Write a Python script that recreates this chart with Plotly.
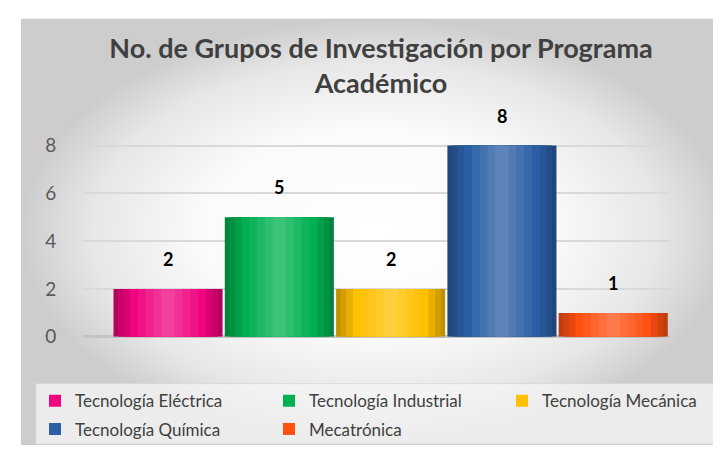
import plotly.graph_objects as go

# ---------------- data ----------------
programas = ["Tecnología Eléctrica", "Tecnología Industrial", "Tecnología Mecánica",
             "Tecnología Química", "Mecatrónica"]
grupos = [2, 5, 2, 8, 1]
colores = ["#f0047f", "#00b050", "#ffc000", "#2a5fa5", "#ff5012"]
y_ticks = [0, 2, 4, 6, 8]
titulo = "No. de Grupos de Investigación por Programa<br>Académico"

W, H = 721, 453
FONT = "Lato, 'Open Sans', sans-serif"


def mix(hexc, t):
    hexc = hexc.lstrip("#")
    r, g, b = (int(hexc[i:i + 2], 16) for i in (0, 2, 4))
    if t >= 0:
        r, g, b = (int(c + (255 - c) * t) for c in (r, g, b))
    else:
        r, g, b = (int(c * (1 + t)) for c in (r, g, b))
    return f"rgb({r},{g},{b})"


fig = go.Figure()

# chart-area background (radial gradient), on its own decorative axes
fig.add_trace(go.Scatter(
    x=[0, 1, 1, 0, 0], y=[0, 0, 1, 1, 0], fill="toself", mode="lines",
    line=dict(width=1, color="#c2c2c2"),
    fillgradient=dict(type="radial",
                      colorscale=[[0, "#ffffff"], [0.5, "#fafafa"],
                                  [0.8, "#e7e7e7"], [1, "#cdcdcd"]]),
    hoverinfo="skip", showlegend=False, xaxis="x", yaxis="y"))

# cylinder-like bars: layered bands from edge (dark) to highlight (light)
bandas = [(0.98, -0.25), (0.9, -0.17), (0.8, -0.09), (0.68, 0.0),
          (0.54, 0.06), (0.4, 0.12), (0.26, 0.18), (0.12, 0.24)]
leyendas = ["legend", "legend2", "legend3", "legend4", "legend5"]
for i, (prog, val, col) in enumerate(zip(programas, grupos, colores)):
    for w, t in bandas:
        fig.add_trace(go.Bar(
            x=[prog], y=[val], width=w, name=prog,
            marker=dict(color=mix(col, t), line=dict(width=0)),
            showlegend=(t == 0.0),
            legend=leyendas[i],
            xaxis="x2", yaxis="y2", hoverinfo="x+y"))

# value labels
for prog, val in zip(programas, grupos):
    fig.add_annotation(x=prog, y=val, xref="x2", yref="y2", text=f"<b>{val}</b>",
                       showarrow=False, yshift=30,
                       font=dict(family=FONT, size=18, color="#000000"))

x_left, x_right = 75, 662
y_zero_px, y_top_px = 337, 128.75

# legend entry positions (text start x, row centre y) in pixels
leg_pos = [(75, 401), (309, 401), (542, 401), (75, 430), (309, 430)]
legend_cfg = {}
for name, (tx, ty) in zip(leyendas, leg_pos):
    legend_cfg[name] = dict(orientation="h", x=(tx - 48) / W, xanchor="left",
                            y=1 - (ty + 2) / H, yanchor="middle",
                            bgcolor="rgba(0,0,0,0)", itemclick=False,
                            font=dict(family=FONT, size=17, color="#404040"))

fig.update_layout(
    width=W, height=H,
    margin=dict(l=0, r=0, t=0, b=0),
    paper_bgcolor="#ffffff", plot_bgcolor="rgba(0,0,0,0)",
    barmode="overlay",
    font=dict(family=FONT, color="#404040"),
    title=dict(text=f"<b>{titulo}</b>", x=373 / W, xanchor="center",
               y=1 - 50 / H, yanchor="top", yref="container",
               font=dict(family=FONT, size=27, color="#404040")),
    xaxis=dict(domain=[13 / W, 1], range=[0, 1], visible=False, fixedrange=True),
    yaxis=dict(domain=[1 - 448 / H, 1 - 11 / H], range=[0, 1], visible=False,
               fixedrange=True),
    xaxis2=dict(domain=[x_left / W, x_right / W], anchor="y2",
                range=[-0.764, 4.51], showticklabels=False, showgrid=False,
                showline=False, zeroline=False, ticks=""),
    yaxis2=dict(domain=[1 - y_zero_px / H, 1 - y_top_px / H], anchor="x2",
                range=[0, 8.5], tickvals=y_ticks, showgrid=True,
                gridcolor="#d9d9d9", gridwidth=1.5,
                zeroline=True, zerolinecolor="#c4c4c4", zerolinewidth=3,
                showline=False, ticks="outside", ticklen=22,
                tickcolor="rgba(0,0,0,0)",
                tickfont=dict(family=FONT, size=19, color="#595959")),
    shapes=[dict(type="rect", xref="paper", yref="paper",
                 x0=28 / W, x1=712 / W, y0=1 - 447 / H, y1=1 - 385 / H,
                 fillcolor="rgba(246,246,246,0.75)",
                 line=dict(color="rgba(215,215,215,0.8)", width=1), layer="above")],
    **legend_cfg,
)

fig.write_html("out.html")
